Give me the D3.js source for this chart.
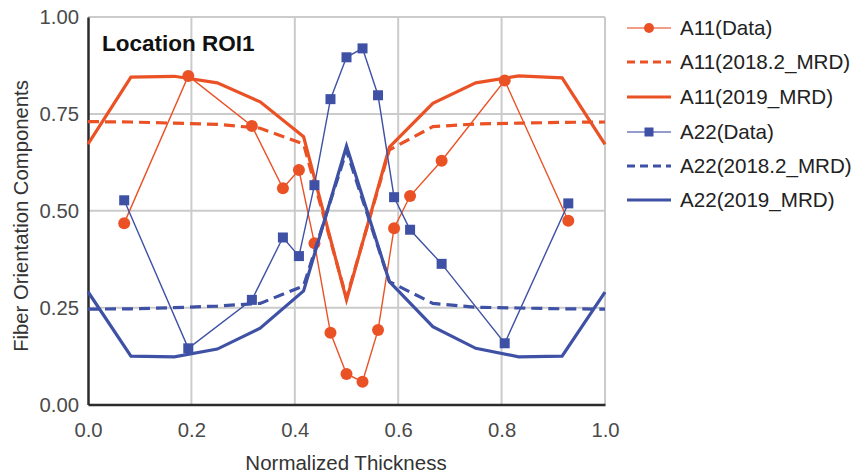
<!DOCTYPE html>
<html>
<head>
<meta charset="utf-8">
<script src="https://cdn.jsdelivr.net/npm/d3@7"></script>
<style>
  html, body { margin: 0; padding: 0; background: #fff; }
  svg { display: block; font-family: "Liberation Sans", Arial, sans-serif; }
</style>
</head>
<body>
<svg id="chart" width="855" height="474"></svg>
<script>
// Measured positions (normalized thickness) and fiber orientation components
const dataThickness = [0.070, 0.194, 0.317, 0.377, 0.408, 0.438, 0.469, 0.500, 0.531, 0.561, 0.592, 0.623, 0.684, 0.806, 0.929];
const a11Data = [0.468, 0.848, 0.719, 0.558, 0.605, 0.416, 0.185, 0.079, 0.059, 0.192, 0.455, 0.538, 0.629, 0.836, 0.474];
const a22Data = [0.527, 0.145, 0.270, 0.431, 0.383, 0.566, 0.788, 0.896, 0.919, 0.798, 0.535, 0.451, 0.363, 0.158, 0.519];

// Simulation results (MRD models) at the element layers
const modelThickness = [0, 0.083, 0.167, 0.25, 0.333, 0.417, 0.5, 0.583, 0.667, 0.75, 0.833, 0.917, 1.0];
const a11Mrd2018 = [0.730, 0.729, 0.726, 0.723, 0.713, 0.672, 0.275, 0.657, 0.717, 0.724, 0.726, 0.728, 0.729];
const a11Mrd2019 = [0.672, 0.845, 0.847, 0.830, 0.781, 0.691, 0.270, 0.664, 0.777, 0.830, 0.848, 0.843, 0.671];
const a22Mrd2018 = [0.246, 0.247, 0.250, 0.254, 0.261, 0.306, 0.655, 0.317, 0.261, 0.251, 0.249, 0.247, 0.246];
const a22Mrd2019 = [0.291, 0.125, 0.123, 0.143, 0.197, 0.293, 0.667, 0.317, 0.201, 0.145, 0.123, 0.125, 0.290];

const xTicks = [0, 0.2, 0.4, 0.6, 0.8, 1.0];
const yTicks = [0, 0.25, 0.5, 0.75, 1.0];

const ORANGE = "#ea5226";
const BLUE = "#3f51a5";

const series = [
  { name: "A11(Data)", xs: dataThickness, ys: a11Data, color: ORANGE, width: 1.4, dash: null, marker: "circle" },
  { name: "A11(2018.2_MRD)", xs: modelThickness, ys: a11Mrd2018, color: ORANGE, width: 3.2, dash: "11,6", marker: null },
  { name: "A11(2019_MRD)", xs: modelThickness, ys: a11Mrd2019, color: ORANGE, width: 3.2, dash: null, marker: null },
  { name: "A22(Data)", xs: dataThickness, ys: a22Data, color: BLUE, width: 1.4, dash: null, marker: "square" },
  { name: "A22(2018.2_MRD)", xs: modelThickness, ys: a22Mrd2018, color: BLUE, width: 3.2, dash: "11,6", marker: null },
  { name: "A22(2019_MRD)", xs: modelThickness, ys: a22Mrd2019, color: BLUE, width: 3.2, dash: null, marker: null }
];

const svg = d3.select("#chart");
const x = d3.scaleLinear().domain([0, 1]).range([88, 605]);
const y = d3.scaleLinear().domain([0, 1]).range([404.5, 17]);

// grid
const grid = svg.append("g");
grid.selectAll("line.vg").data(xTicks.filter(d => d > 0)).join("line")
  .attr("x1", d => x(d)).attr("x2", d => x(d))
  .attr("y1", y(0)).attr("y2", y(1))
  .attr("stroke", "#cbcbcb").attr("stroke-width", 2);
grid.selectAll("line.hg").data(yTicks.filter(d => d > 0)).join("line")
  .attr("x1", x(0)).attr("x2", x(1))
  .attr("y1", d => y(d)).attr("y2", d => y(d))
  .attr("stroke", "#cbcbcb").attr("stroke-width", 2);

// axes
const xAxis = svg.append("g").attr("transform", `translate(0,${y(0)})`)
  .call(d3.axisBottom(x).tickValues(xTicks).tickFormat(d3.format(".1f")).tickSize(0).tickPadding(18));
const yAxis = svg.append("g").attr("transform", `translate(${x(0)},0)`)
  .call(d3.axisLeft(y).tickValues(yTicks).tickFormat(d3.format(".2f")).tickSize(0).tickPadding(9));
[xAxis, yAxis].forEach(a => {
  a.select(".domain").attr("stroke", "#2b2b2b").attr("stroke-width", 2.5);
  a.selectAll("text").attr("font-size", 20.3).attr("fill", "#4a4a4a")
    .attr("font-family", "Liberation Sans, Arial, sans-serif");
});

// series
const lineGen = d3.line();
series.forEach(s => {
  const pts = s.xs.map((v, i) => [x(v), y(s.ys[i])]);
  svg.append("path")
    .attr("d", lineGen(pts))
    .attr("fill", "none")
    .attr("stroke", s.color)
    .attr("stroke-width", s.width)
    .attr("stroke-dasharray", s.dash)
    .attr("stroke-linejoin", "miter");
  if (s.marker === "circle") {
    svg.append("g").selectAll("circle").data(pts).join("circle")
      .attr("cx", d => d[0]).attr("cy", d => d[1]).attr("r", 6)
      .attr("fill", s.color);
  } else if (s.marker === "square") {
    svg.append("g").selectAll("rect").data(pts).join("rect")
      .attr("x", d => d[0] - 5).attr("y", d => d[1] - 5)
      .attr("width", 10).attr("height", 10)
      .attr("fill", s.color);
  }
});

// chart title inside the plot
svg.append("text")
  .attr("x", 102).attr("y", 51)
  .attr("font-size", 22.5).attr("font-weight", "bold").attr("fill", "#111")
  .text("Location ROI1");

// axis titles
svg.append("text")
  .attr("x", 346).attr("y", 470)
  .attr("text-anchor", "middle").attr("font-size", 20.5).attr("fill", "#333")
  .text("Normalized Thickness");
svg.append("text")
  .attr("transform", "translate(28,216) rotate(-90)")
  .attr("text-anchor", "middle").attr("font-size", 20.3).attr("fill", "#333")
  .text("Fiber Orientation Components");

// legend
const legendRows = [28, 62, 97, 132, 166, 200];
const legend = svg.append("g");
series.forEach((s, i) => {
  const ly = legendRows[i];
  const g = legend.append("g");
  g.append("line")
    .attr("x1", 627).attr("x2", 671).attr("y1", ly).attr("y2", ly)
    .attr("stroke", s.color)
    .attr("stroke-width", s.marker ? 1.6 : 3)
    .attr("stroke-opacity", s.marker ? 0.75 : 1)
    .attr("stroke-dasharray", s.dash ? "8,5" : null);
  if (s.marker === "circle") {
    g.append("circle").attr("cx", 649).attr("cy", ly).attr("r", 5).attr("fill", s.color);
  } else if (s.marker === "square") {
    g.append("rect").attr("x", 644.5).attr("y", ly - 4.5).attr("width", 9).attr("height", 9).attr("fill", s.color);
  }
  g.append("text")
    .attr("x", 680).attr("y", ly).attr("dy", "0.35em")
    .attr("font-size", 20.6).attr("fill", "#222")
    .text(s.name);
});
</script>
</body>
</html>
